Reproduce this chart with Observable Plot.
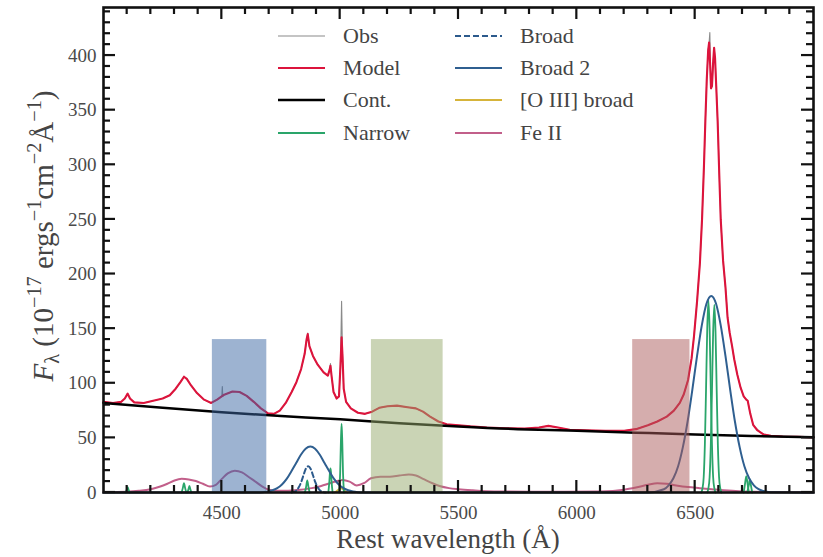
<!DOCTYPE html>
<html>
<head>
<meta charset="utf-8">
<script src="https://cdn.jsdelivr.net/npm/d3@7"></script>
<script src="https://cdn.jsdelivr.net/npm/@observablehq/plot@0.6"></script>
<style>
  body { margin: 0; background: #fff; }
  #chart { width: 823px; height: 557px; }
</style>
</head>
<body>
<div id="chart"></div>
<script>
// ---------- data ----------
const modelWave = [4000,4040,4075,4090,4102,4112,4130,4170,4210,4250,4280,4305,4325,4340,4352,4370,4395,4425,4455,4480,4510,4545,4575,4605,4635,4665,4695,4720,4745,4770,4795,4815,4835,4850,4858,4863,4870,4885,4905,4930,4948,4955,4959,4964,4972,4985,4995,5001,5006,5010,5015,5025,5045,5075,5105,5135,5165,5200,5240,5285,5320,5350,5380,5415,5450,5500,5550,5620,5700,5780,5840,5880,5920,5970,6040,6120,6200,6250,6300,6340,6380,6410,6435,6452,6470,6485,6495,6508,6520,6529,6537,6543,6549,6555,6559,6563,6567,6571,6576,6580,6584,6589,6595,6602,6608,6618,6628,6637,6646,6656,6665,6678,6692,6705,6716,6722,6733,6745,6762,6790,6820,6870,6930,7000];
const modelFlux = [83,82,83,86,90.5,86,82.5,82,84,86,89,95,101,106,104,98,91,85,82,85,89.5,92.5,92,88.5,83,77,72.5,72,75,82,92,101,113,127,140,145,134,125,117,110,107,112,116,106,92,86,88,115,142,125,95,83,77,73,72,74,77.5,79,79.5,78,77,74,69.5,65,62.5,61.5,60.5,59.5,58.8,58.5,59.5,61,59.5,57.5,57,56.5,56.5,58,61.5,65,69.5,75,82,90,103,123,143,175,210,250,298,340,378,405,412,393,370,372,394,407,398,372,340,290,250,212,188,160,146,134,122,108,96,88,85,84,72,62,57,53,52,51.3,51,50.5];

const obsWave = [4000,4040,4075,4090,4102,4112,4130,4170,4210,4250,4280,4305,4325,4340,4352,4370,4395,4425,4455,4480,4500,4502,4504,4510,4545,4575,4605,4635,4665,4695,4720,4745,4770,4795,4815,4835,4850,4858,4863,4870,4885,4905,4930,4948,4955,4959,4964,4972,4985,4995,5001,5004,5006,5008,5010,5015,5025,5045,5075,5105,5135,5165,5200,5240,5285,5320,5350,5380,5415,5450,5500,5550,5620,5700,5780,5840,5880,5920,5970,6040,6120,6200,6250,6300,6340,6380,6410,6435,6452,6470,6485,6495,6508,6520,6529,6537,6543,6549,6555,6559,6562,6565,6567,6571,6576,6580,6584,6589,6595,6602,6608,6618,6628,6637,6646,6656,6665,6678,6692,6705,6716,6722,6733,6745,6762,6775,6790,6820,6870,6930,7000];
const obsFlux = [83,82,83,86,90.5,86,82.5,82,84,86,89,95,101,106,104,98,91,85,82,85,88,97,88,89.5,92.5,92,88.5,83,77,72.5,72,75,82,92,101,113,127,140,146,134,125,117,110,107,112,118,106,92,86,88,115,150,175,150,125,95,83,77,73,72,74,77.5,79,79.5,78,77,74,69.5,65,62.5,61.5,60.5,59.5,58.8,58.5,59.5,61,59.5,57.5,57,56.5,56.5,58,61.5,65,69.5,75,82,90,103,123,143,175,210,250,298,340,378,405,412,421,385,370,372,394,407,398,372,340,290,250,212,188,160,146,134,122,108,96,88,85,84,72,62,58,55,53.5,52,51.3,51,50.5];

const contWave = [4000,4250,4500,4750,5000,5250,5500,5750,6000,6250,6500,6750,7000];
const contFlux = [82,77.5,73.5,70,67,63.5,60.5,58,56.5,54.8,53,51.7,50.5];

const feWave = [4000,4100,4150,4200,4240,4270,4300,4330,4360,4390,4420,4450,4475,4500,4525,4555,4585,4615,4645,4675,4700,4730,4780,4830,4880,4920,4950,4980,5010,5040,5070,5100,5130,5170,5210,5250,5290,5320,5350,5390,5420,5460,5500,5560,5650,5800,5950,6100,6200,6250,6300,6340,6380,6420,6470,6520,6570,6620,6700,6800,7000];
const feFlux = [0.5,0.8,1.5,3,5.5,8,11,12.5,12,10.5,8,5.5,7,12.5,17.5,20,18.5,14,9.5,5,2.5,1.5,1.5,2.5,4,6,8,10,11.5,10,6.5,8.5,13,14.5,14.5,15.5,16.5,15.5,12.5,8.5,6,4,3,2,1,0.8,0.8,1,2.5,4.5,7,8.5,8,6.5,5,4,3,2,1,0.5,0.3];

const broad2Wave = [4000,4650,4674,4694,4714,4734,4754,4774,4794,4814,4834,4854,4874,4894,4914,4934,4954,4974,4994,5014,5034,5054,5074,5100,6300,6368,6388,6408,6428,6448,6468,6488,6508,6528,6548,6568,6588,6608,6628,6648,6668,6688,6708,6728,6748,6768,6788,6818,7000];
const broad2Flux = [0,0,0.3,0.9,2,4,7.4,12.5,19.5,27,34.5,40,42,40,34.5,27,19.5,12.5,7.4,4,2,0.9,0.3,0,0,3,6.6,13,24,41.5,65,94,125,153,173,180,173,153,125,94,65,41.5,24,13,6.6,3,1.3,0.3,0];

const broadWave = [4795,4805,4815,4825,4835,4845,4855,4865,4875,4885,4895,4905,4915,4925,4940];
const broadFlux = [0,0.6,1.8,4.7,9.4,15.8,21.8,24,21.8,15.8,9.4,4.7,1.8,0.6,0];

const oiiiBroadWave = [4975,4985,4995,5003,5011,5021,5031];
const oiiiBroadFlux = [0,1.2,3,4,3,1.2,0];

const narrowLine = ["Hd","Hd","Hd","Hd","Hd","Hg","Hg","Hg","Hg","Hg","O4363","O4363","O4363","O4363","O4363","Hb","Hb","Hb","Hb","Hb","O4959","O4959","O4959","O4959","O4959","O4959","O4959","O5007","O5007","O5007","O5007","O5007","O5007","O5007","Ha","Ha","Ha","Ha","Ha","Ha","Ha","Ha","Ha","Ha","Ha","Ha","Ha","N6583","N6583","N6583","N6583","N6583","N6583","N6583","N6583","N6583","N6583","N6583","N6583","N6583","S6716","S6716","S6716","S6716","S6716","S6731","S6731","S6731","S6731","S6731"];
const narrowWave = [4094,4098,4102,4106,4110, 4330,4335,4340,4345,4350, 4355,4359,4363,4367,4371, 4851,4856,4861,4866,4871, 4950,4954,4957,4959,4961,4964,4968, 4996,5000,5003,5006,5009,5012,5016, 6526,6531,6536,6541,6546,6551,6556,6561,6566,6571,6576,6581,6586, 6551,6556,6561,6566,6571,6576,6581,6586,6591,6596,6601,6606,6611, 6705,6710,6716,6722,6727, 6720,6726,6731,6736,6741];
const narrowFlux = [0,2.5,5,2.5,0, 0,4,8.5,4,0, 0,3,6,3,0, 0,5,11,5,0, 0,9,19,22,19,9,0, 0,18,46,63,46,18,0, 0,4,14,44,95,150,176,150,95,44,14,4,0, 0,4,14,43,93,147,172,147,93,43,14,4,0, 0,7,15,7,0, 0,6,12,6,0];

const boxStart = [4460, 5132, 6236];
const boxEnd = [4690, 5435, 6478];
const boxTop = [140, 140, 140];

const xMajorTicks = [4500, 5000, 5500, 6000, 6500];
const xMinorTicks = [4100,4200,4300,4400,4600,4700,4800,4900,5100,5200,5300,5400,5600,5700,5800,5900,6100,6200,6300,6400,6600,6700,6800,6900];
const yMajorTicks = [0,50,100,150,200,250,300,350,400];
const yMinorTicks = [10,20,30,40,60,70,80,90,110,120,130,140,160,170,180,190,210,220,230,240,260,270,280,290,310,320,330,340,360,370,380,390,410,420,430,440];

const legendLabels = ["Obs","Model","Cont.","Narrow","Broad","Broad 2","[O III] broad","Fe II"];

// ---------- build tables ----------
const rows = (w, f) => w.map((x, i) => ({x, y: f[i]}));
const obs = rows(obsWave, obsFlux);
const model = rows(modelWave, modelFlux);
const cont = rows(contWave, contFlux);
const fe = rows(feWave, feFlux);
const broad2 = rows(broad2Wave, broad2Flux);
const broad = rows(broadWave, broadFlux);
const oiii = rows(oiiiBroadWave, oiiiBroadFlux);
const narrow = narrowWave.map((x, i) => ({x, y: narrowFlux[i], line: narrowLine[i]}));
const boxes = boxStart.map((s, i) => ({x1: s, x2: boxEnd[i], y2: boxTop[i], i}));
const boxColors = ["#3b67a3", "#95a96b", "#ab5b5b"];

// ---------- style ----------
const W = 823, H = 557;
const mL = 103, mR = 10, mT = 7, mB = 65;
const X0 = 4000, X1 = 7000, Y0 = 0, Y1 = 444;
const majLen = 12, minLen = 7;
const C = {
  obs: "#8a8a8a", model: "#dc143c", cont: "#000000", narrow: "#2aa56a",
  broad: "#2c5a8c", broad2: "#2f5f90", oiii: "#d6b43a", fe: "#c25f8a"
};
const font = "'Liberation Serif', 'DejaVu Serif', serif";

const chart = Plot.plot({
  width: W, height: H,
  marginLeft: mL, marginRight: mR, marginTop: mT, marginBottom: mB,
  style: {fontFamily: font, fontSize: "19px", color: "#4a4a4a", background: "#fff"},
  x: {domain: [X0, X1]},
  y: {domain: [Y0, Y1]},
  marks: [
    Plot.line(obs, {x: "x", y: "y", stroke: C.obs, strokeWidth: 1.1}),
    Plot.line(model, {x: "x", y: "y", stroke: C.model, strokeWidth: 2.1}),
    Plot.line(cont, {x: "x", y: "y", stroke: C.cont, strokeWidth: 2.5, curve: "natural"}),
    Plot.line(fe, {x: "x", y: "y", stroke: C.fe, strokeWidth: 2, curve: "monotone-x"}),
    Plot.line(oiii, {x: "x", y: "y", stroke: C.oiii, strokeWidth: 1.8, curve: "monotone-x"}),
    Plot.line(narrow, {x: "x", y: "y", z: "line", stroke: C.narrow, strokeWidth: 1.8, curve: "monotone-x"}),
    Plot.line(broad2, {x: "x", y: "y", stroke: C.broad2, strokeWidth: 2, curve: "monotone-x"}),
    Plot.line(broad, {x: "x", y: "y", stroke: C.broad, strokeWidth: 2, strokeDasharray: "5,3", curve: "monotone-x"}),
    Plot.rect(boxes, {x1: "x1", x2: "x2", y1: 0, y2: "y2", fill: d => boxColors[d.i], fillOpacity: 0.5}),
    Plot.frame({stroke: "#111", strokeWidth: 2.6}),
    Plot.axisX(xMajorTicks, {tickSize: 0, tickPadding: 13, tickFormat: d => String(d), label: null, fontSize: 19}),
    Plot.axisY(yMajorTicks, {tickSize: 0, tickPadding: 7, tickFormat: d => String(d), label: null, fontSize: 19})
  ]
});

const svg = d3.select(chart);
svg.style("overflow", "visible");

// inward ticks on all four sides, placed with the plot's own scales
const sx = chart.scale("x"), sy = chart.scale("y");
const fLeft = mL, fRight = W - mR, fTop = mT, fBottom = H - mB;
const tg = svg.append("g").attr("stroke", "#111").attr("stroke-width", 2.2);
[[xMajorTicks, majLen], [xMinorTicks, minLen]].forEach(([ticks, len]) => ticks.forEach(v => {
  const px = sx.apply(v);
  tg.append("line").attr("x1", px).attr("x2", px).attr("y1", fBottom).attr("y2", fBottom - len);
  tg.append("line").attr("x1", px).attr("x2", px).attr("y1", fTop).attr("y2", fTop + len);
}));
[[yMajorTicks, majLen], [yMinorTicks, minLen]].forEach(([ticks, len]) => ticks.forEach(v => {
  const py = sy.apply(v);
  tg.append("line").attr("y1", py).attr("y2", py).attr("x1", fLeft).attr("x2", fLeft + len);
  tg.append("line").attr("y1", py).attr("y2", py).attr("x1", fRight).attr("x2", fRight - len);
}));

// x-axis title
svg.append("text")
  .attr("x", 448).attr("y", 548)
  .attr("text-anchor", "middle")
  .attr("font-family", font).attr("font-size", 27).attr("fill", "#444")
  .text("Rest wavelength (Å)");

// y-axis title with sub/superscripts
const yl = svg.append("text")
  .attr("transform", "translate(53,236) rotate(-90)")
  .attr("text-anchor", "middle")
  .attr("font-family", font).attr("font-size", 29).attr("fill", "#444");
const parts = [
  ["F", 0, 1, "italic"], ["λ", 6, 0.7, "normal"], [" (10", -6, 1, "normal"], ["−17", -12, 0.7, "normal"],
  [" ergs", 12, 1, "normal"], ["−1", -12, 0.7, "normal"], ["cm", 12, 1, "normal"], ["−2", -12, 0.7, "normal"],
  ["Å", 12, 1, "normal"], ["−1", -12, 0.7, "normal"], [")", 12, 1, "normal"]
];
parts.forEach(([t, dy, s, st]) => {
  yl.append("tspan").attr("dy", dy).attr("font-size", 29 * s).attr("font-style", st).text(t);
});

// legend
const legendStyle = [
  {c: C.obs, w: 1.2, d: null}, {c: C.model, w: 2.2, d: null}, {c: C.cont, w: 2.6, d: null}, {c: C.narrow, w: 2.2, d: null},
  {c: C.broad, w: 2.2, d: "6,3"}, {c: C.broad2, w: 2.2, d: null}, {c: C.oiii, w: 2.2, d: null}, {c: C.fe, w: 2.2, d: null}
];
const rowsY = [36, 68, 100, 133];
const colX = [278, 455];
legendLabels.forEach((lab, i) => {
  const col = Math.floor(i / 4), r = i % 4;
  const x0 = colX[col], y0 = rowsY[r];
  const st = legendStyle[i];
  svg.append("line").attr("x1", x0).attr("x2", x0 + 47).attr("y1", y0).attr("y2", y0)
    .attr("stroke", st.c).attr("stroke-width", st.w).attr("stroke-dasharray", st.d);
  svg.append("text").attr("x", x0 + 65).attr("y", y0 + 7)
    .attr("text-anchor", "start")
    .attr("font-family", font).attr("font-size", 22).attr("fill", "#444").text(lab);
});

document.getElementById("chart").appendChild(chart);
</script>
</body>
</html>
